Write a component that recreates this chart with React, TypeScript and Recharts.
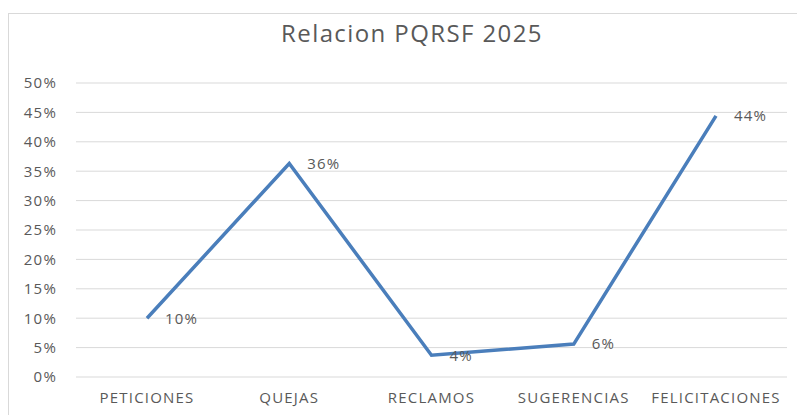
import { CartesianGrid, LabelList, Line, LineChart, XAxis, YAxis } from "recharts";

const categories = ["PETICIONES", "QUEJAS", "RECLAMOS", "SUGERENCIAS", "FELICITACIONES"];
const values = [10.0, 36.3, 3.7, 5.6, 44.4];
const labels = ["10%", "36%", "4%", "6%", "44%"];
const yTicks = [0, 5, 10, 15, 20, 25, 30, 35, 40, 45, 50];

const data = categories.map((name, i) => ({ name, value: values[i], label: labels[i] }));

const FONT = "'Open Sans', sans-serif";
const INK = "#595959";

export default function App() {
  return (
    <div style={{ position: "absolute", left: 0, top: 0, width: 797, height: 415, background: "#fff", fontFamily: FONT }}>
      {/* chart frame */}
      <div
        style={{
          position: "absolute",
          left: 8,
          top: 13,
          width: 820,
          height: 420,
          border: "1px solid #d9d9d9",
          boxSizing: "border-box",
        }}
      />
      <div
        style={{
          position: "absolute",
          left: 0,
          width: 824,
          top: 16,
          textAlign: "center",
          fontSize: 24,
          letterSpacing: 1.4,
          color: INK,
          lineHeight: "34px",
        }}
      >
        Relacion PQRSF 2025
      </div>
      <div style={{ position: "absolute", left: 0, top: 0 }}>
        <LineChart width={797} height={415} data={data} margin={{ top: 83, right: 10, left: 0, bottom: 0 }}>
          <CartesianGrid stroke="#d9d9d9" vertical={false} />
          <XAxis
            dataKey="name"
            axisLine={false}
            tickLine={false}
            tickSize={0}
            tickMargin={15}
            height={38}
            interval={0}
            padding={{ left: 71, right: 71 }}
            tick={{ fill: INK, fontSize: 15, fontFamily: FONT, letterSpacing: 1.2 }}
          />
          <YAxis
            domain={[0, 50]}
            ticks={yTicks}
            width={76}
            axisLine={false}
            tickLine={false}
            tickSize={0}
            tickMargin={19}
            tickFormatter={(v) => `${v}%`}
            tick={{ fill: INK, fontSize: 15, fontFamily: FONT, letterSpacing: 1.2 }}
          />
          <Line
            type="linear"
            dataKey="value"
            stroke="#4a7ebb"
            strokeWidth={3.5}
            dot={false}
            activeDot={false}
            isAnimationActive={false}
          >
            <LabelList
              dataKey="label"
              position="right"
              offset={18}
              fill={INK}
              fontSize={15}
              fontFamily={FONT}
              letterSpacing={1.2}
            />
          </Line>
        </LineChart>
      </div>
    </div>
  );
}
